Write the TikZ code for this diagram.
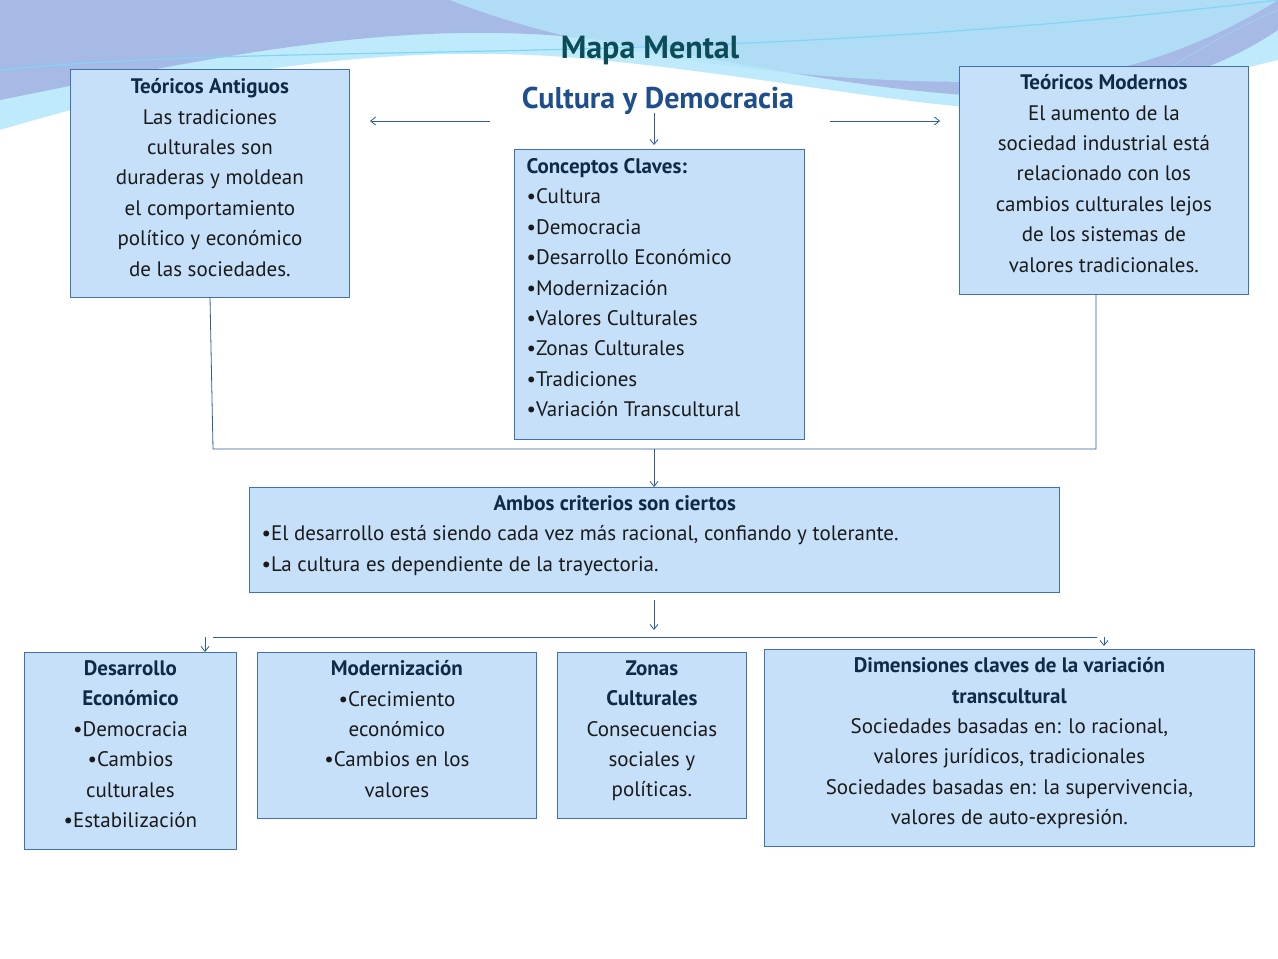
\documentclass[tikz,border=0pt]{standalone}
\usepackage{fontspec}
\setmainfont{PT Sans}
\begin{document}
\begin{tikzpicture}[x=1pt,y=-1pt,
  bx/.style={draw=boxline,fill=boxfill,line width=0.8pt,inner sep=0pt,anchor=north west,align=center,font=\fontsize{21}{30.4}\selectfont,text=txt},
  con/.style={draw=conline,line width=0.8pt},
  arr/.style={con,-{Straight Barb[length=5pt,width=8pt]}}]
\usetikzlibrary{arrows.meta}
\definecolor{boxfill}{HTML}{C6E0FA}
\definecolor{boxline}{HTML}{3F72B5}
\definecolor{conline}{HTML}{2F5F97}
\definecolor{txt}{HTML}{1A1A1A}
\definecolor{hd}{HTML}{0E2A45}
\useasboundingbox (0,0) rectangle (1278,959);
\fill[white] (0,0) rectangle (1278,959);
% waves
\fill[cyan!25!white] (0,0) -- (1278,0) -- (1278,60) .. controls (1100,160) and (900,90) .. (600,60) .. controls (400,40) and (200,70) .. (0,130) -- cycle;
\fill[cyan!45!blue!35!white] (0,0) -- (1278,0) -- (1278,30) .. controls (1100,150) and (850,80) .. (600,40) .. controls (400,15) and (200,60) .. (0,100) -- cycle;
\fill[cyan!30!white,opacity=0.8] (450,0) .. controls (600,60) and (850,90) .. (1050,80) .. controls (1150,70) and (1230,30) .. (1278,0) -- cycle;
\fill[white] (0,130) .. controls (250,70) and (450,55) .. (700,90) .. controls (900,115) and (1000,130) .. (1278,60) -- (1278,959) -- (0,959) -- cycle;
\draw[cyan!50!white,line width=1.2pt] (0,70) .. controls (300,40) and (700,70) .. (1278,0);
\draw[cyan!40!white] (1100,110) .. controls (1180,60) and (1230,30) .. (1278,10);
% title
\node (t1) at (650,50) {\fontsize{32}{34}\selectfont\bfseries\color[HTML]{0B4C58}Mapa Mental};
\node (t2) at (658,101) {\fontsize{30}{32}\selectfont\bfseries\color[HTML]{1F4E8C}Cultura y Democracia};
% boxes
\node[bx,minimum width=279pt,minimum height=228pt] (ant) at (70,69) {};
\node[text=txt,align=center,font=\fontsize{21}{30.4}\selectfont,anchor=north] at (ant.north) [yshift=-6pt]{\textbf{\color{hd}Teóricos Antiguos}\\Las tradiciones\\culturales son\\duraderas y moldean\\el comportamiento\\político y económico\\de las sociedades.};
\node[bx,minimum width=289pt,minimum height=228pt] (mod) at (959,66) {};
\node[text=txt,align=center,font=\fontsize{21}{30.4}\selectfont,anchor=north] at (mod.north) [yshift=-5pt]{\textbf{\color{hd}Teóricos Modernos}\\El aumento de la\\sociedad industrial está\\relacionado con los\\cambios culturales lejos\\de los sistemas de\\valores tradicionales.};
\node[bx,minimum width=290pt,minimum height=290pt] (con) at (514,149) {};
\node[text=txt,align=left,font=\fontsize{21}{30.4}\selectfont,anchor=north west] at (con.north west) [xshift=9pt,yshift=-6pt]{\textbf{\color{hd}Conceptos Claves:}\\•Cultura\\•Democracia\\•Desarrollo Económico\\•Modernización\\•Valores Culturales\\•Zonas Culturales\\•Tradiciones\\•Variación Transcultural};
\node[bx,minimum width=810pt,minimum height=105pt] (amb) at (249,487) {};
\node[text=txt,align=left,font=\fontsize{21}{30.4}\selectfont,anchor=north west] at (amb.north west) [xshift=9pt,yshift=-5pt]{\hspace*{232pt}\textbf{\color{hd}Ambos criterios son ciertos}\\•El desarrollo está siendo cada vez más racional, confiando y tolerante.\\•La cultura es dependiente de la trayectoria.};
\node[bx,minimum width=212pt,minimum height=197pt] (des) at (24,652) {};
\node[text=txt,align=center,font=\fontsize{21}{30.4}\selectfont,anchor=north] at (des.north) [yshift=-5pt]{\textbf{\color{hd}Desarrollo}\\\textbf{\color{hd}Económico}\\•Democracia\\•Cambios\\culturales\\•Estabilización};
\node[bx,minimum width=279pt,minimum height=166pt] (mdz) at (257,652) {};
\node[text=txt,align=center,font=\fontsize{21}{30.4}\selectfont,anchor=north] at (mdz.north) [yshift=-5pt]{\textbf{\color{hd}Modernización}\\•Crecimiento\\económico\\•Cambios en los\\valores};
\node[bx,minimum width=189pt,minimum height=166pt] (zon) at (557,652) {};
\node[text=txt,align=center,font=\fontsize{21}{30.4}\selectfont,anchor=north] at (zon.north) [yshift=-5pt]{\textbf{\color{hd}Zonas}\\\textbf{\color{hd}Culturales}\\Consecuencias\\sociales y\\políticas.};
\node[bx,minimum width=490pt,minimum height=197pt] (dim) at (764,649) {};
\node[text=txt,align=center,font=\fontsize{21}{30.4}\selectfont,anchor=north] at (dim.north) [yshift=-5pt]{\textbf{\color{hd}Dimensiones claves de la variación}\\\textbf{\color{hd}transcultural}\\Sociedades basadas en: lo racional,\\valores jurídicos, tradicionales\\Sociedades basadas en: la supervivencia,\\valores de auto-expresión.};
% connectors
\coordinate (a1) at (490,121); \coordinate (a1e) at (370,121);
\coordinate (a2) at (830,121); \coordinate (a2e) at (940,121);
\coordinate (a3) at (654,113);
\draw[arr] (a1) -- (a1e);
\draw[arr] (a2) -- (a2e);
\draw[arr] (a3) -- (654,145);
\coordinate (l1) at (210,297); \coordinate (l2) at (213,449);
\coordinate (r2) at (1096,449); \coordinate (r1) at (1096,294);
\draw[con] (l1) -- (l2) -- (r2) -- (r1);
\coordinate (m1) at (654,449);
\draw[arr] (m1) -- (amb.north -| m1);
\coordinate (m2) at (654,600); \coordinate (m3) at (654,630);
\draw[arr] (m2) -- (m3);
\coordinate (h1) at (213,637); \coordinate (h2) at (1097,637);
\draw[con] (h1) -- (h2);
\coordinate (d1) at (205,637); \coordinate (d2) at (1104,637);
\draw[arr] (d1) -- (des.north -| d1);
\draw[arr] (d2) -- ([yshift=3pt]dim.north -| d2);
\end{tikzpicture}
\end{document}
